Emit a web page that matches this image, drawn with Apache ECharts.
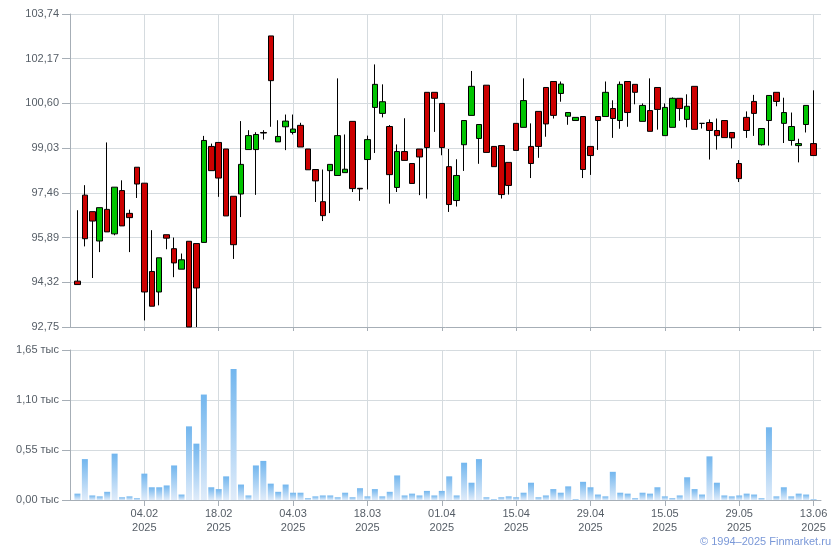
<!DOCTYPE html>
<html><head><meta charset="utf-8">
<script src="https://cdn.jsdelivr.net/npm/echarts@6/dist/echarts.min.js"></script>
<style>html,body{margin:0;padding:0;background:#fff}#c{width:840px;height:550px}</style>
</head><body><div id="c"></div>
<script>
const dates = ['22.01','23.01','24.01','27.01','28.01','29.01','30.01','31.01','03.02','04.02',
'05.02','06.02','07.02','10.02','11.02','12.02','13.02','14.02','17.02','18.02',
'19.02','20.02','21.02','24.02','25.02','26.02','27.02','28.02','03.03','04.03',
'05.03','06.03','07.03','10.03','11.03','12.03','13.03','14.03','17.03','18.03',
'19.03','20.03','21.03','24.03','25.03','26.03','27.03','28.03','31.03','01.04',
'02.04','03.04','04.04','07.04','08.04','09.04','10.04','11.04','14.04','15.04',
'16.04','17.04','18.04','21.04','22.04','23.04','24.04','25.04','28.04','29.04',
'30.04','02.05','05.05','06.05','07.05','08.05','12.05','13.05','14.05','15.05',
'16.05','19.05','20.05','21.05','22.05','23.05','26.05','27.05','28.05','29.05',
'30.05','02.06','03.06','04.06','05.06','06.06','09.06','10.06','11.06','13.06'];
const tickDates = ['04.02','18.02','04.03','18.03','01.04','15.04','29.04','15.05','29.05','13.06'];
const opens = [94.36,97.38,96.80,95.77,96.88,96.02,97.54,96.74,98.36,97.80,
94.70,93.98,95.99,95.50,94.78,95.76,95.68,95.72,99.09,99.23,
99.00,97.34,97.42,98.98,98.98,99.58,102.97,99.25,99.78,99.58,
99.83,99.00,98.28,97.15,98.24,98.07,98.17,99.97,97.62,98.63,
100.46,100.25,99.79,97.65,98.91,98.49,99.00,100.99,100.99,100.60,
98.38,97.19,99.15,100.18,99.37,101.24,99.09,99.12,98.53,99.90,
99.76,99.09,100.32,101.16,101.37,100.95,100.15,100.00,100.14,99.09,
100.14,100.14,100.42,100.00,101.37,101.27,99.97,100.35,101.16,99.47,
99.76,100.78,100.04,101.20,99.90,99.93,99.65,100.00,99.58,98.49,
100.11,100.67,99.15,100.00,100.99,99.90,99.30,99.12,99.86,99.19];
const closes = [94.24,95.85,96.47,96.94,96.09,97.66,96.30,96.59,97.77,93.98,
93.48,95.18,95.87,95.00,95.11,92.75,94.12,99.30,98.24,97.98,
96.65,95.64,98.46,99.47,99.51,99.56,101.40,99.44,99.98,99.70,
99.07,98.27,97.88,96.66,98.46,99.47,98.29,97.61,97.60,99.33,
101.27,100.66,98.10,98.91,98.60,97.79,98.72,99.05,100.78,99.05,
97.05,98.07,100.00,101.20,99.86,98.88,98.38,97.40,97.72,98.95,
100.70,98.49,99.09,99.88,100.18,101.28,100.28,100.11,98.28,98.77,
100.00,100.99,100.07,101.27,100.28,100.99,100.53,99.62,100.39,100.46,
100.78,100.42,100.50,99.69,99.90,99.65,99.47,99.40,99.39,97.96,
99.65,100.25,99.72,100.88,100.67,100.28,99.79,99.19,100.53,98.77];
const lows = [94.24,95.58,94.47,95.38,96.09,95.97,96.30,95.38,97.28,92.98,
93.48,93.51,95.48,94.50,94.78,92.75,92.75,95.72,98.24,97.32,
96.65,95.14,96.61,98.98,97.39,99.33,99.78,99.25,98.96,99.51,
99.07,98.27,97.14,96.47,96.75,98.07,98.17,97.49,97.18,97.58,
98.86,100.11,97.08,97.49,98.60,97.79,97.38,97.26,99.60,98.78,
96.79,96.98,98.23,100.18,98.48,98.88,98.38,97.26,97.40,98.95,
99.76,97.98,98.69,99.43,100.07,100.66,99.85,100.00,97.98,98.09,
98.97,100.14,99.39,99.71,99.78,100.57,99.97,99.62,99.68,99.47,
99.76,99.99,99.76,99.69,99.72,98.63,98.98,99.40,99.02,97.84,
99.39,99.46,99.12,99.12,100.50,99.21,99.12,98.53,99.58,98.77];
const highs = [96.85,97.73,96.80,96.94,99.23,97.66,97.90,96.87,98.36,97.80,
96.15,95.18,95.99,95.89,95.33,95.76,95.68,99.46,99.19,99.23,
99.00,97.34,99.98,99.66,99.59,99.66,102.97,100.01,100.21,100.21,
99.92,99.00,98.28,98.28,98.46,101.48,99.51,99.97,97.62,99.47,
101.97,101.27,99.84,99.16,100.08,98.49,99.00,100.99,100.99,100.60,
99.00,98.64,100.00,101.74,99.86,101.24,99.09,99.12,98.53,99.90,
101.48,99.90,100.32,101.16,101.37,101.37,100.28,100.11,100.14,99.09,
100.14,101.37,100.71,101.37,101.37,101.27,100.60,101.48,101.16,100.60,
100.81,100.78,100.92,101.20,99.90,100.04,100.07,100.00,99.58,98.61,
100.32,100.90,99.72,100.88,100.99,100.80,100.28,99.36,100.53,101.06];
const volumes = [0.07,0.45,0.05,0.04,0.09,0.51,0.03,0.04,0.02,0.29,
0.14,0.14,0.16,0.38,0.06,0.81,0.62,1.16,0.14,0.12,
0.26,1.44,0.17,0.05,0.38,0.43,0.18,0.09,0.17,0.08,
0.08,0.02,0.04,0.05,0.05,0.03,0.08,0.03,0.13,0.04,
0.12,0.04,0.09,0.27,0.05,0.07,0.05,0.10,0.05,0.10,
0.26,0.05,0.41,0.19,0.45,0.03,0.01,0.03,0.04,0.03,
0.08,0.19,0.03,0.05,0.12,0.08,0.15,0.01,0.20,0.14,
0.06,0.04,0.31,0.08,0.07,0.02,0.08,0.07,0.14,0.04,
0.02,0.05,0.25,0.12,0.06,0.48,0.19,0.05,0.04,0.05,
0.07,0.06,0.02,0.80,0.04,0.14,0.04,0.07,0.06,0.01];
const priceTicks = [92.75, 94.32, 95.89, 97.46, 99.03, 100.60, 102.17, 103.74];
const volumeTicks = [0, 0.55, 1.10, 1.65];

const cats = [' '].concat(dates, ['  ']);
const empty = ['-', '-', '-', '-'];
const candleData = [empty].concat(dates.map((d, i) => [opens[i], closes[i], lows[i], highs[i]]), [empty]);
const volData = ['-'].concat(volumes, ['-']);
const showTick = (i, v) => tickDates.indexOf(v) >= 0;
const FONT = 'Liberation Sans, Arial, sans-serif';
const TXT = '#555d66';
const GRID = '#d5dbdf';
const AXIS = '#a6aeb6';

function xAxisCfg(gridIndex, labels) {
  return {
    type: 'category', gridIndex, data: cats, boundaryGap: false,
    axisLine: { show: true, lineStyle: { color: AXIS, width: 1 } },
    axisTick: { show: true, interval: showTick, length: labels ? 6 : 4, lineStyle: { color: AXIS } },
    splitLine: { show: true, interval: showTick, lineStyle: { color: GRID, width: 1 } },
    axisLabel: labels ? {
      show: true, interval: showTick, formatter: v => v + '\n2025',
      color: TXT, fontSize: 11, fontFamily: FONT, lineHeight: 14, margin: 7
    } : { show: false }
  };
}

const chart = echarts.init(document.getElementById('c'), null, { renderer: 'canvas' });
chart.setOption({
  animation: false,
  backgroundColor: '#fff',
  grid: [
    { left: 70, right: 19, top: 14, height: 313 },
    { left: 70, right: 19, top: 350, height: 150 }
  ],
  xAxis: [xAxisCfg(0, false), xAxisCfg(1, true)],
  yAxis: [
    {
      type: 'value', gridIndex: 0, min: priceTicks[0], max: priceTicks[priceTicks.length - 1],
      axisLine: { show: true, lineStyle: { color: AXIS } },
      axisTick: { show: true, length: 8, lineStyle: { color: AXIS }, customValues: priceTicks },
      axisLabel: { customValues: priceTicks, formatter: v => v.toFixed(2).replace('.', ','),
        color: TXT, fontSize: 11, fontFamily: FONT, margin: 11 },
      splitLine: { show: true, lineStyle: { color: GRID } }
    },
    {
      type: 'value', gridIndex: 1, min: 0, max: 1.65, interval: 0.55,
      axisLine: { show: true, lineStyle: { color: AXIS } },
      axisTick: { show: true, length: 8, lineStyle: { color: AXIS } },
      axisLabel: { formatter: v => v.toFixed(2).replace('.', ',') + ' тыс',
        color: TXT, fontSize: 11, fontFamily: FONT, margin: 11 },
      splitLine: { show: true, lineStyle: { color: GRID } }
    }
  ],
  series: [
    {
      type: 'candlestick', xAxisIndex: 0, yAxisIndex: 0, data: candleData,
      barWidth: 6,
      itemStyle: { color: '#00c400', color0: '#cc0000', borderColor: '#000', borderColor0: '#000', borderWidth: 1 }
    },
    {
      type: 'bar', xAxisIndex: 1, yAxisIndex: 1, data: volData, barWidth: 6,
      itemStyle: {
        color: new echarts.graphic.LinearGradient(0, 0, 0, 1, [
          { offset: 0, color: '#72b6ee' }, { offset: 1, color: '#e0ecfa' }
        ])
      }
    }
  ],
  graphic: [
    { type: 'text', right: 9, top: 536,
      style: { text: '© 1994–2025 Finmarket.ru', fill: '#7a98d8', font: '11px Liberation Sans, Arial, sans-serif' } }
  ]
});
</script>
</body></html>
